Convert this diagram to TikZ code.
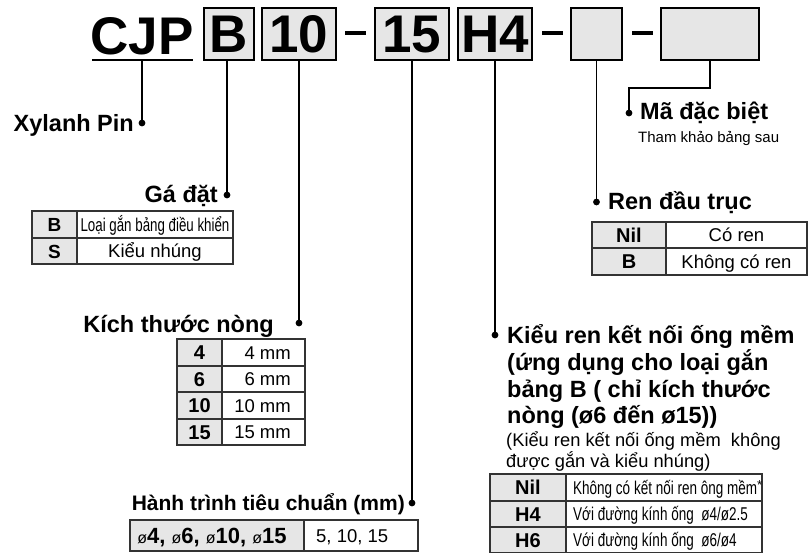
\documentclass[tikz,border=0pt]{standalone}
\usepackage{fontspec}
\usepackage{graphicx}
\setmainfont{Liberation Sans}
\definecolor{cellgray}{HTML}{E6E6E6}
\definecolor{tgray}{HTML}{333333}
\tikzset{
  hbox/.style={draw, line width=2pt, fill=cellgray, minimum height=52pt, inner sep=0pt,
    font=\fontsize{53}{53}\selectfont\bfseries, text height=38pt, text depth=0pt},
  hbig/.style={inner sep=0pt, font=\fontsize{53}{53}\selectfont\bfseries},
  uline/.style={line width=2pt},
  dashline/.style={line width=3.5pt},
  leader/.style={line width=1.8pt},
  dotf/.style={fill=black},
  headf/.style={inner sep=0pt, font=\fontsize{23.5}{28}\selectfont\bfseries},
  headm/.style={inner sep=0pt, font=\fontsize{21}{25}\selectfont\bfseries},
  subf/.style={inner sep=0pt, font=\fontsize{15}{18}\selectfont},
  subm/.style={inner sep=0pt, font=\fontsize{18.3}{22}\selectfont},
  tline/.style={line width=1.3pt, draw=tgray},
  cellr/.style={inner sep=0pt, font=\fontsize{18.5}{18.5}\selectfont, text height=13pt, text depth=0pt},
  cellb/.style={inner sep=0pt, font=\fontsize{20}{20}\selectfont\bfseries, text height=14pt, text depth=0pt},
}
\begin{document}
\begin{tikzpicture}[x=1pt,y=-1pt]
\useasboundingbox (0,0) rectangle (810,553);

% ---------- header ----------
\node[hbig, anchor=base] (cjp) at (142,55) {CJP};
\draw[uline] (92,60.5) -- (193,60.5);
\coordinate (cjpfoot) at (142,61);
\node[hbox, minimum width=50pt] (bB) at (229,34) {B};
\node[hbox, minimum width=74pt] (b10) at (299,34) {10};
\draw[dashline] (345,33) -- (366,33);
\node[hbox, minimum width=74pt] (b15) at (412,34) {15};
\node[hbox, minimum width=74pt] (bH) at (495,34) {H4};
\draw[dashline] (542,33) -- (563,33);
\node[hbox, minimum width=51pt] (bE) at (596.5,34) {};
\draw[dashline] (632,33) -- (653,33);
\node[hbox, minimum width=98pt] (bW) at (710,34) {};

% ---------- dots ----------
\coordinate (dX) at (142,123);
\coordinate (dB) at (227,195);
\coordinate (d10) at (299,323);
\coordinate (d15) at (412,503);
\coordinate (dH) at (495,335);
\coordinate (dR) at (596.5,202);
\coordinate (dM) at (629,113);
\coordinate (mbend) at (629,88);

\draw[leader] (cjpfoot) -- (dX);
\draw[leader] (bB.south -| dB) -- (dB);
\draw[leader] (b10.south -| d10) -- (d10);
\draw[leader] (b15.south -| d15) -- (d15);
\draw[leader] (bH.south -| dH) -- (dH);
\draw[leader] (bE.south -| dR) -- (dR);
\draw[leader] (bW.south) |- (mbend) -- (dM);
\foreach \d in {dX,dB,d10,d15,dH,dR,dM} \fill[dotf] (\d) circle[radius=3.4pt];

% ---------- headings ----------
\node[headf, anchor=base east] (tX) at (134,132) {Xylanh Pin};
\node[headf, anchor=base east] (tB) at (218,203) {Gá đặt};
\node[headf, anchor=base east] (t10) at (274,332) {Kích thước nòng};
\node[headm, anchor=base east] (t15) at (405,510) {Hành trình tiêu chuẩn (mm)};
\node[headf, anchor=base west] (tH1) at (507,343) {Kiểu ren kết nối ống mềm};
\node[headf, anchor=base west] (tH2) at (507,370) {(ứng dụng cho loại gắn};
\node[headf, anchor=base west] (tH3) at (507,397) {bảng B ( chỉ kích thước};
\node[headf, anchor=base west] (tH4) at (507,423) {nòng (ø6 đến ø15))};
\node[subm, anchor=base west] (tH5) at (506,446) {(Kiểu ren kết nối ống mềm\ \ không};
\node[subm, anchor=base west] (tH6) at (506,467) {được gắn và kiểu nhúng)};
\node[headf, anchor=base west] (tM) at (640,120) {Mã đặc biệt};
\node[subf, anchor=base west] (tM2) at (638,143) {Tham khảo bảng sau};
\node[headf, anchor=base west] (tR) at (608,210) {Ren đầu trục};

% ---------- table: Gá đặt ----------
\fill[cellgray] (32,211) rectangle (77,264);
\draw[tline] (32,211) rectangle (233,264);
\draw[tline] (32,238) -- (233,238);
\draw[tline] (77,211) -- (77,264);
\node[cellb, font=\fontsize{19}{19}\selectfont\bfseries] (gB) at (54.5,224.5) {B};
\node[cellr] (gB2) at (155,224.5) {\scalebox{0.72}[1]{Loại gắn bảng điều khiển}};
\node[cellb, font=\fontsize{19}{19}\selectfont\bfseries] (gS) at (54.5,251) {S};
\node[cellr] (gS2) at (155,251) {Kiểu nhúng};

% ---------- table: Kích thước nòng ----------
\fill[cellgray] (177,339) rectangle (222,445);
\draw[tline] (177,339) rectangle (305,445);
\draw[tline] (177,366) -- (305,366);
\draw[tline] (177,392) -- (305,392);
\draw[tline] (177,419) -- (305,419);
\draw[tline] (222,339) -- (222,445);
\node[cellb] (k4) at (199.5,352.5) {4};
\node[cellr, anchor=east] (k4v) at (291,352.5) {4 mm};
\node[cellb] (k6) at (199.5,379) {6};
\node[cellr, anchor=east] (k6v) at (291,379) {6 mm};
\node[cellb] (k10) at (199.5,405.5) {10};
\node[cellr, anchor=east] (k10v) at (291,405.5) {10 mm};
\node[cellb] (k15) at (199.5,432) {15};
\node[cellr, anchor=east] (k15v) at (291,432) {15 mm};

% ---------- table: Hành trình ----------
\fill[cellgray] (130,520) rectangle (304,551);
\draw[tline] (130,520) rectangle (418,551);
\draw[tline] (304,520) -- (304,551);
\node[cellb, font=\fontsize{22}{22}\selectfont\bfseries, text height=15pt] (s1) at (212,535.5)
  {{\fontsize{16}{16}\selectfont\mdseries ø}4, {\fontsize{16}{16}\selectfont\mdseries ø}6, {\fontsize{16}{16}\selectfont\mdseries ø}10, {\fontsize{16}{16}\selectfont\mdseries ø}15};
\node[cellr, anchor=west] (s2) at (316,535.5) {5, 10, 15};

% ---------- table: Ren đầu trục ----------
\fill[cellgray] (592,222) rectangle (666,275);
\draw[tline] (592,222) rectangle (807,275);
\draw[tline] (592,248) -- (807,248);
\draw[tline] (666,222) -- (666,275);
\node[cellb] (rN) at (629,235) {Nil};
\node[cellr] (rN2) at (736.5,235) {Có ren};
\node[cellb] (rB) at (629,261.5) {B};
\node[cellr] (rB2) at (736.5,261.5) {Không có ren};

% ---------- table: Kiểu ren kết nối ----------
\fill[cellgray] (490,474) rectangle (566,553);
\draw[tline] (490,474) rectangle (762,553);
\draw[tline] (490,501) -- (762,501);
\draw[tline] (490,527) -- (762,527);
\draw[tline] (566,474) -- (566,553);
\node[cellb] (hN) at (528,487.5) {Nil};
\node[cellr, anchor=west] (hN2) at (573,487.5) {\scalebox{0.73}[1]{Không có kết nối ren ông mềm}\raisebox{5pt}{\fontsize{13}{13}\selectfont *}};
\node[cellb] (h4) at (528,514) {H4};
\node[cellr, anchor=west] (h42) at (573,514) {\scalebox{0.73}[1]{Với đường kính ống\ \ ø4/ø2.5}};
\node[cellb] (h6) at (528,540) {H6};
\node[cellr, anchor=west] (h62) at (573,540) {\scalebox{0.73}[1]{Với đường kính ống\ \ ø6/ø4}};
\end{tikzpicture}
\end{document}
